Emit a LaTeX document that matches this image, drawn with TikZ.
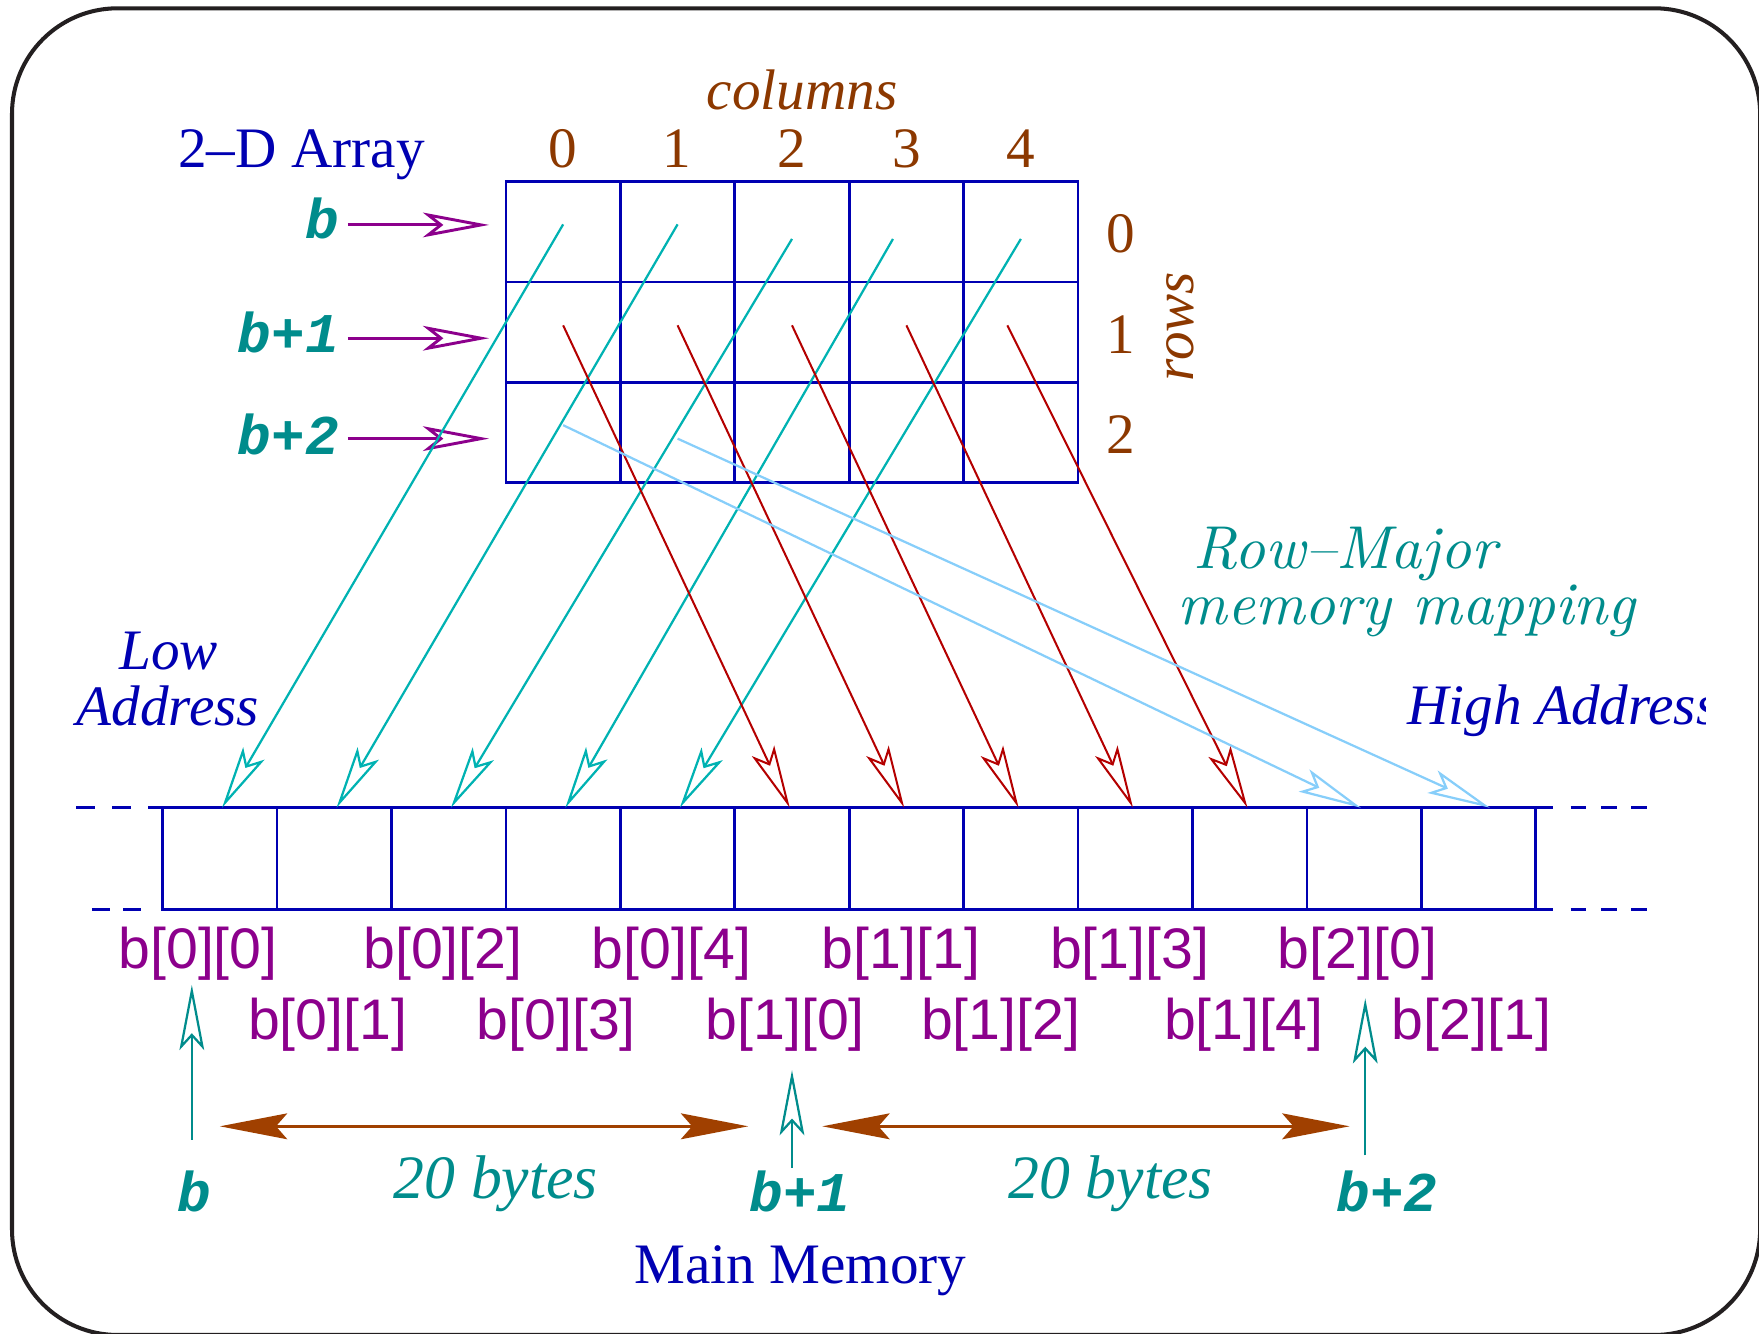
\documentclass[tikz,border=0pt]{standalone}
\usepackage{fontspec}
\usetikzlibrary{arrows.meta}

\newfontfamily\tmsfam{Liberation Serif}
\newfontfamily\hlvfam{Liberation Sans}
\newfontfamily\crfam{Liberation Mono}
\newfontfamily\lmitfam{lmroman10-italic.otf}

\definecolor{frameclr}{RGB}{35,31,32}
\definecolor{navy}{RGB}{0,0,178}
\definecolor{brn}{RGB}{140,56,0}
\definecolor{tealtxt}{RGB}{0,140,140}
\definecolor{cyanln}{RGB}{0,178,178}
\definecolor{redln}{RGB}{180,0,0}
\definecolor{skyln}{RGB}{135,206,250}
\definecolor{purp}{RGB}{140,0,140}
\definecolor{brarrow}{RGB}{160,64,0}

\tikzset{
  openhead/.tip={Stealth[open, length=28pt, width=11pt, inset=6pt]},
  fillhead/.tip={Stealth[length=30pt, width=11.5pt, inset=5pt]},
}

\begin{document}
\begin{tikzpicture}[x=0.5pt, y=-0.5pt,
  cellbox/.style={draw=navy, line width=1.2pt, minimum width=51pt, minimum height=44.67pt, inner sep=0pt, outer sep=0pt},
  memcell/.style={draw=navy, line width=1.2pt, minimum width=51pt, minimum height=45.5pt, inner sep=0pt, outer sep=0pt},
  strip/.style={draw=navy, line width=1.2pt},
  txt/.style={inner sep=0pt, outer sep=0pt},
  serif/.style={txt, font=\tmsfam\fontsize{25.5}{30}\selectfont},
  serifit/.style={txt, font=\tmsfam\itshape\fontsize{25.5}{30}\selectfont},
  mapnote/.style={txt, font=\lmitfam\fontsize{27}{30}\selectfont, text=tealtxt, anchor=base},
  ptrlabel/.style={txt, font=\crfam\bfseries\itshape\fontsize{25}{30}\selectfont, text=tealtxt},
  elem/.style={txt, font=\hlvfam\fontsize{25.5}{30}\selectfont, text=purp, anchor=base},
  rowptr/.style={draw=purp, line width=1.3pt, -{Stealth[open, length=29.5pt, width=11pt, inset=7pt]}},
  firstrow/.style={draw=cyanln, line width=1pt, -{openhead}},
  secondrow/.style={draw=redln, line width=0.9pt, -{openhead}},
  thirdrow/.style={draw=skyln, line width=1pt, -{openhead}},
  ptrup/.style={draw=tealtxt, line width=1pt, -{Stealth[open, length=29pt, width=11pt, inset=6pt]}},
  span/.style={draw=brarrow, line width=1.3pt, {fillhead}-{fillhead}},
]
\useasboundingbox (0,0) rectangle (1568,1189);

% outer frame
\draw[frameclr, line width=1.8pt, rounded corners=47pt] (10.7,7.4) rectangle (1569,1190);

% the 3 x 5 array
\foreach \r in {0,1,2}{
  \foreach \c in {0,...,4}{
    \node[cellbox] (a\r\c) at ({502+102*\c},{206.67+89.33*\r}) {};
  }
}

% main memory strip
\foreach \i in {0,...,11}{
  \node[memcell] (m\i) at ({196+102*\i},765.5) {};
}
\draw[strip] (m11.north east) -- (1384.6,720) (m11.south east) -- (1384.6,811);
\draw[strip, dash pattern=on 8.25pt off 7.75pt] (68,720) -- (m0.north west);
\draw[strip, dash pattern=on 8pt off 6pt] (82,811) -- (128,811);
\draw[strip, dash pattern=on 7pt off 6.5pt] (1400,720) -- (1471,720) (1400,811) -- (1471,811);

% headings of the array
\node[serif, text=navy, anchor=base west] (title) at (159,149) {2–D Array};
\node[serifit, text=brn, anchor=base] (colhead) at (715,98) {columns};
\foreach \c/\x in {0/502,1/603,2/706,3/808,4/910}{
  \node[serif, text=brn, anchor=base] (col\c) at (\x,149) {\c};
}
\foreach \r/\y in {0/225,1/315,2/404}{
  \node[serif, text=brn, anchor=base] (row\r) at (999,\y) {\r};
}
\node[serifit, text=brn, anchor=base, rotate=90] (rowhead) at (1063.5,291) {rows};

% row pointers
\node[ptrlabel, anchor=base east] (lb0) at (302,213) {b};
\node[ptrlabel, anchor=base east] (lb1) at (302,314.5) {b+1};
\node[ptrlabel, anchor=base east] (lb2) at (302,405) {b+2};
\coordinate (pa0) at (436,200.5);
\coordinate (pa1) at (436,301.5);
\coordinate (pa2) at (436,391);
\foreach \k in {0,1,2}{
  \draw[rowptr] (lb\k.east |- pa\k) ++(8,0) -- (pa\k);
}

% start points inside the array cells
\coordinate (s00) at (502,200);
\coordinate (s01) at (604,200);
\coordinate (s02) at (706,213);
\coordinate (s03) at (796,213);
\coordinate (s04) at (910,213);
\coordinate (s10) at (502,290);
\coordinate (s11) at (604,290);
\coordinate (s12) at (706,290);
\coordinate (s13) at (808,290);
\coordinate (s14) at (898,290);
\coordinate (s20) at (502,379);
\coordinate (s21) at (604,391);
\coordinate (e20) at (1213,720);
\coordinate (e21) at (1328,720);

% row-major mapping
\foreach \c in {0,...,4}{
  \draw[firstrow] (s0\c) -- ([xshift=1pt]m\c.north);
}
\foreach \c [evaluate=\c as \j using int(\c+5)] in {0,...,4}{
  \draw[secondrow] (s1\c) -- ([xshift=-1pt]m\j.north);
}
\draw[thirdrow] (s20) -- (e20);
\draw[thirdrow] (s21) -- (e21);

% address captions
\node[serifit, text=navy, anchor=base] (low1) at (150.5,596.5) {Low};
\node[serifit, text=navy, anchor=base] (low2) at (149.7,647) {Address};
\begin{scope}
  \clip (1200,590) rectangle (1520.4,700);
  \node[serifit, text=navy, anchor=base west] (high) at (1254.7,646) {High Address};
\end{scope}
\node[mapnote] (rm1) at (1199,506.5) {Row–Major};
\node[mapnote] (rm2) at (1254,557) {memory mapping};

% element names, two staggered rows
\foreach \r/\c/\x in {0/0/176.5,0/2/394.8,0/4/598.5,1/1/803,1/3/1007,2/0/1210}{
  \node[elem] (l\r\c) at (\x,863) {b[\r][\c]};
}
\foreach \r/\c/\x in {0/1/292,0/3/495.8,1/0/700,1/2/892,1/4/1108.5,2/1/1311.7}{
  \node[elem] (l\r\c) at (\x,927) {b[\r][\c]};
}

% pointer values below the strip
\node[ptrlabel, anchor=base] (pb0) at (173,1080) {b};
\node[ptrlabel, anchor=base] (pb1) at (713,1080) {b+1};
\node[ptrlabel, anchor=base] (pb2) at (1236.5,1080) {b+2};
\coordinate (q0) at (171,1016);
\coordinate (h0) at (171,878);
\coordinate (q1) at (706,1041);
\coordinate (h1) at (706,954);
\coordinate (q2) at (1217,1030);
\coordinate (h2) at (1217,890);
\foreach \k in {0,1,2}{
  \draw[ptrup] (q\k) -- (h\k);
}

% row sizes
\coordinate (g0) at (196,1004);
\coordinate (g1) at (667,1004);
\coordinate (g2) at (733,1004);
\coordinate (g3) at (1203,1004);
\draw[span] (g0) -- (g1);
\draw[span] (g2) -- (g3);
\node[txt, font=\tmsfam\itshape\fontsize{27.5}{30}\selectfont, text=tealtxt, anchor=base] (bytes0) at (442,1068) {20 bytes};
\node[txt, font=\tmsfam\itshape\fontsize{27.5}{30}\selectfont, text=tealtxt, anchor=base] (bytes1) at (990,1068) {20 bytes};

\node[serif, text=navy, anchor=base] (mainmem) at (713.6,1144) {Main Memory};
\end{tikzpicture}
\end{document}
